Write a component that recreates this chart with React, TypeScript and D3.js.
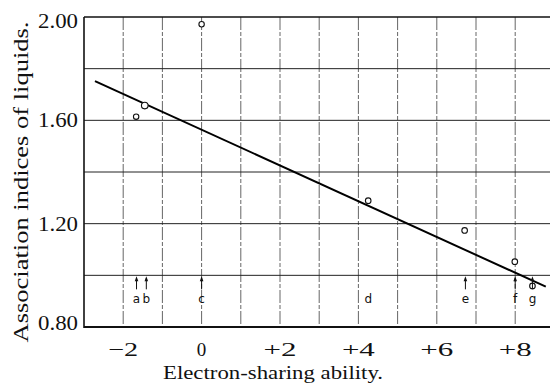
import React from "react";
import * as d3 from "d3";

const W = 550;
const H = 386;

// data
const xTicks = [-2, 0, 2, 4, 6, 8];
const xTickLabels = ["\u22122", "0", "+2", "+4", "+6", "+8"];
const xGrid = [-2, -1, 0, 1, 2, 3, 4, 5, 6, 7, 8];
const yTicks = [2.0, 1.6, 1.2, 0.8];
const yTickLabels = ["2.00", "1.60", "1.20", "0.80"];
const yGrid = [1.8, 1.6, 1.4, 1.2, 1.0];
const pointX = [-1.67, -1.45, 0, 4.25, 6.71, 7.99, 8.44];
const pointY = [1.614, 1.657, 1.972, 1.289, 1.174, 1.053, 0.959];
const pointR = [2.7, 3.3, 2.7, 2.8, 2.8, 2.8, 2.8];
const fitX = [-2.72, 8.78];
const fitY = [1.752, 0.956];
const markLabels = ["a", "b", "c", "d", "e", "f", "g"];
const markX = [-1.66, -1.41, 0, 4.25, 6.73, 8.0, 8.44];
const markArrow = [true, true, true, false, true, true, true];

export default function App() {
  const left = 84;
  const top = 17;
  const bottom = 327;
  const x = d3.scaleLinear().domain([-3, 9]).range([left, left + 12 * 39.2]);
  const y = d3.scaleLinear().domain([0.8, 2.0]).range([bottom, top]);
  const line = d3
    .line<number>()
    .x((_, i) => x(fitX[i]))
    .y((d) => y(d));
  const serif = "Liberation Serif, serif";
  const arrowTop = y(1.0) + 1;
  const arrowBottom = y(1.0) + 14;
  return (
    <svg
      width={W}
      height={H}
      style={{ position: "fixed", left: 0, top: 0, background: "#fff" }}
    >
      <rect x={0} y={0} width={W} height={H} fill="#fff" />
      {/* vertical grid */}
      {xGrid.map((v) => (
        <line
          key={"vx" + v}
          x1={x(v)}
          x2={x(v)}
          y1={top}
          y2={bottom}
          stroke="#555"
          strokeWidth={0.9}
          strokeDasharray="13,2,4,2"
        />
      ))}
      {/* horizontal grid */}
      {yGrid.map((v) => (
        <line
          key={"hy" + v}
          x1={left}
          x2={W}
          y1={y(v)}
          y2={y(v)}
          stroke="#222"
          strokeWidth={1}
        />
      ))}
      {/* frame */}
      <line x1={left} x2={W} y1={y(2.0)} y2={y(2.0)} stroke="#111" strokeWidth={1.6} />
      <line x1={left} x2={W} y1={y(0.8)} y2={y(0.8)} stroke="#111" strokeWidth={2} />
      <line x1={left} x2={left} y1={top} y2={bottom + 1} stroke="#111" strokeWidth={1.6} />

      {/* fit line */}
      <path d={line(fitY) || ""} fill="none" stroke="#000" strokeWidth={2} />

      {/* points */}
      {pointX.map((v, i) => (
        <circle
          key={"p" + i}
          cx={x(v)}
          cy={y(pointY[i])}
          r={pointR[i]}
          fill="#fff"
          stroke="#111"
          strokeWidth={1.1}
        />
      ))}

      {/* arrows & labels */}
      {markX.map((v, i) => (
        <g key={"m" + i}>
          {markArrow[i] && (
            <>
              <line
                x1={x(v)}
                x2={x(v)}
                y1={arrowTop + 2}
                y2={arrowBottom}
                stroke="#111"
                strokeWidth={1}
              />
              <path
                d={`M${x(v)},${arrowTop} L${x(v) - 1.8},${arrowTop + 5} L${x(v) + 1.8},${arrowTop + 5} Z`}
                fill="#111"
              />
            </>
          )}
          <text
            x={x(v)}
            y={303}
            textAnchor="middle"
            fontFamily="DejaVu Sans, sans-serif"
            fontSize={12}
            fill="#111"
          >
            {markLabels[i]}
          </text>
        </g>
      ))}

      {/* x tick labels */}
      {xTicks.map((v, i) => {
        const s = xTickLabels[i];
        const len = s.length > 1 ? (s[0] === "+" ? 33 : 30) : undefined;
        return (
          <text
            key={"xt" + v}
            x={x(v)}
            y={356}
            textAnchor="middle"
            fontFamily={serif}
            fontSize={19}
            fill="#111"
            textLength={len}
            lengthAdjust={len ? "spacingAndGlyphs" : undefined}
          >
            {s}
          </text>
        );
      })}
      {/* y tick labels */}
      {yTicks.map((v, i) => {
        let cy = y(v);
        if (i === 0) cy += 4;
        if (i === yTicks.length - 1) cy -= 4;
        return (
          <text
            key={"yt" + v}
            x={78}
            y={cy}
            dy="0.35em"
            textAnchor="end"
            fontFamily={serif}
            fontSize={20}
            fill="#111"
            textLength={40}
            lengthAdjust="spacingAndGlyphs"
          >
            {yTickLabels[i]}
          </text>
        );
      })}
      {/* axis titles */}
      <text
        x={273}
        y={379}
        textAnchor="middle"
        fontFamily={serif}
        fontSize={18}
        fill="#111"
        textLength={220}
        lengthAdjust="spacingAndGlyphs"
      >
        Electron-sharing ability.
      </text>
      <text
        transform={`translate(28,182) rotate(-90)`}
        textAnchor="middle"
        fontFamily={serif}
        fontSize={20}
        fill="#111"
        textLength={321}
        lengthAdjust="spacingAndGlyphs"
      >
        Association indices of liquids.
      </text>
    </svg>
  );
}
